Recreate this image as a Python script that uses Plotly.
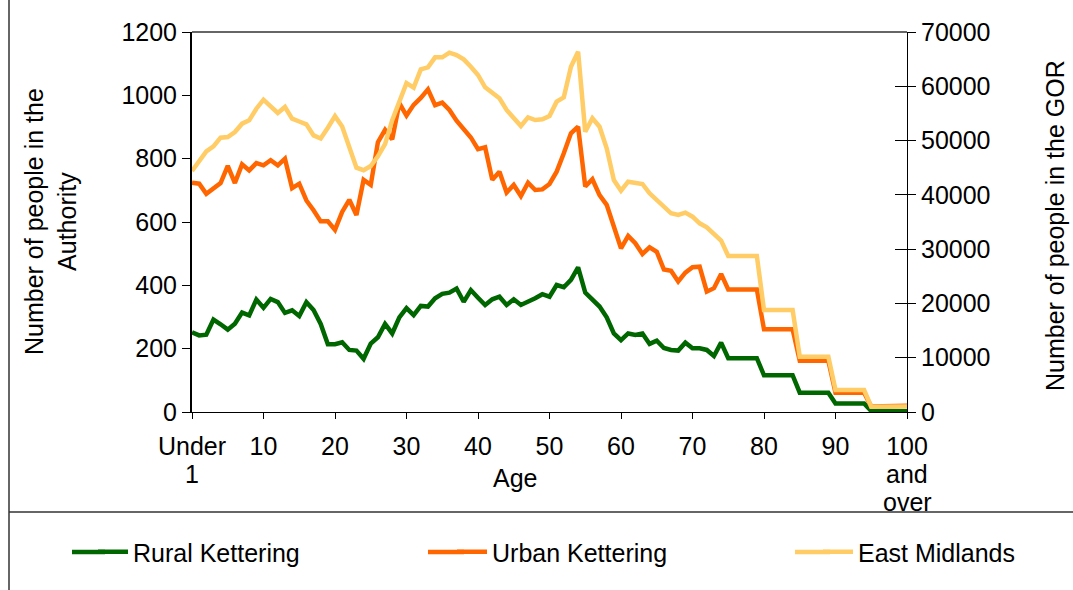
import plotly.graph_objects as go

ages = list(range(0, 101))

rural_kettering = [
    252, 242, 244, 292, 277, 260, 279, 314, 305, 355,
    329, 357, 347, 313, 321, 303, 347, 322, 278, 214,
    214, 220, 196, 194, 168, 216, 236, 278, 248, 299,
    328, 306, 335, 333, 359, 373, 377, 390, 348, 385,
    361, 338, 356, 364, 338, 356, 338, 348, 359, 372,
    364, 401, 394, 417, 457, 377, 356, 333, 299, 248,
    227, 248, 243, 248, 215, 225, 202, 196, 194, 219,
    201, 201, 196, 177, 219, 170, 170, 170, 170, 170,
    116, 116, 116, 116, 116, 61, 61, 61, 61, 61,
    27, 27, 27, 27, 27, 3, 3, 3, 3, 3,
    2,
]

urban_kettering = [
    724, 721, 689, 705, 723, 777, 723, 782, 763, 786,
    779, 795, 779, 800, 707, 721, 668, 637, 602, 602,
    575, 632, 670, 622, 733, 717, 852, 891, 861, 975,
    936, 970, 992, 1019, 969, 977, 954, 920, 896, 867,
    830, 836, 733, 759, 693, 717, 682, 724, 701, 703,
    720, 759, 817, 880, 901, 712, 735, 685, 654, 585,
    517, 556, 533, 499, 520, 506, 450, 446, 412, 440,
    457, 459, 380, 391, 436, 387, 387, 387, 387, 387,
    261, 261, 261, 261, 261, 162, 162, 162, 162, 162,
    61, 61, 61, 61, 61, 17, 17, 17, 17, 17,
    20,
]

east_midlands = [
    44400, 46360, 48020, 48940, 50530, 50660, 51580, 53110, 53730, 55870,
    57530, 56300, 55080, 56180, 54030, 53510, 53000, 50960, 50380, 52370,
    54500, 52590, 48780, 45010, 44550, 45320, 47100, 49360, 53760, 57290,
    60570, 59750, 63100, 63500, 65330, 65330, 66190, 65760, 64960, 63610,
    62080, 59810, 58820, 57780, 55630, 54280, 52680, 54280, 53790, 53910,
    54530, 57160, 57960, 63610, 66370, 51630, 54100, 52560, 48570, 42740,
    40770, 42430, 42120, 42000, 40280, 39050, 37800, 36600, 36290, 36720,
    35980, 34760, 34020, 32790, 31560, 28740, 28740, 28740, 28740, 28740,
    18790, 18790, 18790, 18790, 18790, 10190, 10190, 10190, 10190, 10190,
    4050, 4050, 4050, 4050, 4050, 980, 980, 980, 980, 980,
    1000,
]

series_names = ["Rural Kettering", "Urban Kettering", "East Midlands"]
series_colors = ["#006600", "#FF6600", "#FFCC66"]

x_tick_vals = [0, 10, 20, 30, 40, 50, 60, 70, 80, 90, 100]
x_tick_text = ["Under", "10", "20", "30", "40", "50", "60", "70", "80", "90", "100"]
# continuation lines of the first and last tick labels: (age, text, line number)
x_tick_extra = [(0, "1", 1), (100, "and", 1), (100, "over", 2)]

FONT = "Liberation Sans, Arial, sans-serif"
FS = 25
LW = 4.5
W, H = 1073, 590
L, R, T, B = 192, 166, 32, 178
PW, PH = W - L - R, H - T - B


def px_x(p):
    return (p - L) / PW


def px_y(p):
    return (H - B - p) / PH


fig = go.Figure()
fig.add_trace(go.Scatter(x=ages, y=rural_kettering, name=series_names[0], mode="lines",
                         line=dict(color=series_colors[0], width=LW), yaxis="y",
                         legend="legend"))
fig.add_trace(go.Scatter(x=ages, y=urban_kettering, name=series_names[1], mode="lines",
                         line=dict(color=series_colors[1], width=LW), yaxis="y",
                         legend="legend2"))
fig.add_trace(go.Scatter(x=ages, y=east_midlands, name=series_names[2], mode="lines",
                         line=dict(color=series_colors[2], width=LW), yaxis="y2",
                         legend="legend3"))
# helper trace so the inside-tick axis is drawn
fig.add_trace(go.Scatter(x=[None], y=[None], yaxis="y3", showlegend=False, hoverinfo="skip"))

tickfont = dict(size=FS, family=FONT, color="black")
legend_common = dict(orientation="h", xanchor="left", yanchor="middle",
                     font=dict(size=FS, family=FONT, color="black"),
                     bgcolor="rgba(0,0,0,0)", borderwidth=0)

# legend positions (px of the legend box left edge) and sample-line starts
legend_left = [93, 452, 818]
sample_start = [72, 428, 795]
LEG_Y = 552

fig.update_layout(
    width=W, height=H,
    margin=dict(l=L, r=R, t=T, b=B, autoexpand=False),
    paper_bgcolor="white", plot_bgcolor="white",
    font=dict(family=FONT, size=FS, color="black"),
    showlegend=True,
    xaxis=dict(range=[0, 100], tickvals=x_tick_vals, ticktext=x_tick_text,
               ticks="outside", ticklen=6, tickcolor="black", showline=True,
               linecolor="black", linewidth=1, showgrid=False, zeroline=False,
               ticklabelstandoff=6, tickfont=tickfont, automargin=False),
    yaxis=dict(range=[0, 1200], dtick=200, ticks="outside", ticklen=8, tickcolor="black",
               showline=True, linecolor="black", linewidth=2, showgrid=False, zeroline=False,
               tickfont=tickfont, automargin=False),
    yaxis2=dict(range=[0, 70000], dtick=10000, overlaying="y", side="right", anchor="x",
                ticks="outside", ticklen=8, tickcolor="black", showline=True,
                linecolor="black", linewidth=1, showgrid=False, zeroline=False,
                tickformat="d", tickfont=tickfont, automargin=False),
    yaxis3=dict(range=[0, 70000], dtick=10000, overlaying="y", side="right", anchor="x",
                ticks="inside", ticklen=12, tickcolor="black", showline=False,
                showticklabels=False, showgrid=False, zeroline=False, automargin=False),
    legend=dict(x=px_x(legend_left[0]), y=px_y(LEG_Y), **legend_common),
    legend2=dict(x=px_x(legend_left[1]), y=px_y(LEG_Y), **legend_common),
    legend3=dict(x=px_x(legend_left[2]), y=px_y(LEG_Y), **legend_common),
)

# longer legend sample lines (extend the library's short samples to the left)
for start, left, color in zip(sample_start, legend_left, series_colors):
    fig.add_shape(type="line", xref="paper", yref="paper",
                  x0=px_x(start), x1=px_x(left + 12), y0=px_y(LEG_Y), y1=px_y(LEG_Y),
                  line=dict(color=color, width=LW))

# plot-area top border
fig.add_shape(type="line", xref="paper", yref="paper", x0=0, x1=1, y0=1, y1=1,
              line=dict(color="#333333", width=1.5))
# chart frame: left border and legend box top
fig.add_shape(type="line", xref="paper", yref="paper",
              x0=px_x(9), x1=px_x(9), y0=px_y(0), y1=px_y(590),
              line=dict(color="#333333", width=1.5))
fig.add_shape(type="line", xref="paper", yref="paper",
              x0=px_x(9), x1=px_x(1073), y0=px_y(512), y1=px_y(512),
              line=dict(color="#333333", width=1.5))

# continuation lines of multi-line tick labels
for age, txt, line_no in x_tick_extra:
    fig.add_annotation(text=txt, xref="x", yref="paper", x=age, y=px_y(446 + 28 * line_no),
                       showarrow=False, xanchor="center", yanchor="middle",
                       font=dict(size=FS, family=FONT, color="black"))

# axis titles
fig.add_annotation(text="Age", xref="paper", yref="paper", x=px_x(515), y=px_y(478),
                   showarrow=False, xanchor="center", yanchor="middle",
                   font=dict(size=FS, family=FONT, color="black"))
fig.add_annotation(text="Number of people in the<br>Authority", xref="paper", yref="paper",
                   x=px_x(50), y=px_y(222), textangle=-90, showarrow=False,
                   xanchor="center", yanchor="middle",
                   font=dict(size=FS, family=FONT, color="black"))
fig.add_annotation(text="Number of people in the GOR", xref="paper", yref="paper",
                   x=px_x(1055), y=px_y(226), textangle=-90, showarrow=False,
                   xanchor="center", yanchor="middle",
                   font=dict(size=FS, family=FONT, color="black"))

fig.write_html("out.html", config={"displayModeBar": False},
               post_script="document.body.style.margin='0';document.body.style.padding='0';")
